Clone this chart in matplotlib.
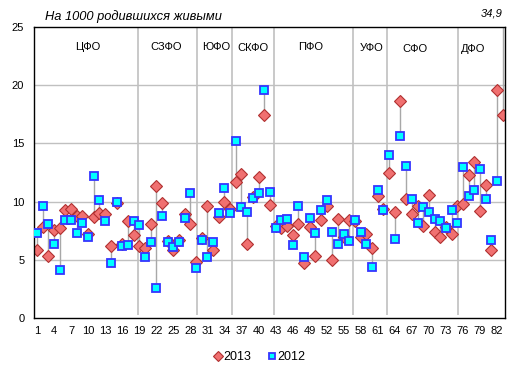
import matplotlib
matplotlib.use('Agg')
import matplotlib.pyplot as plt
import numpy as np

plt.rcParams['font.family'] = ['Liberation Sans', 'DejaVu Sans']

# infant mortality per 1000 live births, by region number
v2013 = [5.8, 7.8, 5.3, 7.6, 7.7, 9.3, 9.4, 8.8, 8.8, 7.2,
         8.7, 9.0, 8.9, 6.2, 9.9, 6.4, 8.3, 7.1, 6.2, 6.0,
         8.1, 11.3, 9.9, 6.6, 5.8, 6.7, 8.9, 8.1, 4.8, 6.9,
         9.6, 5.8, 8.7, 10.0, 9.4, 11.7, 12.4, 6.4, 10.4, 12.1,
         17.4, 9.7, 7.9, 7.7, 7.9, 7.1, 8.1, 4.7, 7.8, 5.3,
         8.4, 9.6, 5.0, 8.5, 7.0, 8.4, 8.3, 7.0, 7.2, 6.0,
         10.5, 9.4, 12.5, 9.1, 18.6, 10.2, 8.9, 9.6, 7.9, 10.6,
         7.4, 7.0, 7.8, 7.2, 9.6, 9.8, 12.3, 13.4, 9.2, 11.4,
         5.8, 19.6, 17.4]
v2012 = [7.3, 9.6, 8.1, 6.4, 4.1, 8.4, 8.4, 7.3, 8.2, 7.0,
         12.2, 10.1, 8.3, 4.7, 10.0, 6.2, 6.3, 8.3, 8.0, 5.2,
         6.5, 2.6, 8.8, 6.5, 6.1, 6.5, 8.6, 10.7, 4.3, 6.7,
         5.2, 6.5, 9.0, 11.2, 9.0, 15.2, 9.5, 9.1, 10.3, 10.7,
         19.6, 10.8, 7.7, 8.4, 8.5, 6.3, 9.6, 5.2, 8.6, 7.3,
         9.3, 10.1, 7.4, 6.4, 7.2, 6.6, 8.4, 7.4, 6.4, 4.4,
         11.0, 9.3, 14.0, 6.8, 15.6, 13.1, 10.2, 8.2, 9.5, 9.1,
         8.5, 8.3, 7.7, 9.3, 8.2, 13.0, 10.5, 11.0, 12.8, 10.2,
         6.7, 11.8, 34.9]
districts = ['ЦФО', 'СЗФО', 'ЮФО', 'СКФО', 'ПФО', 'УФО', 'СФО', 'ДФО']
district_x = [9.9, 23.8, 32.5, 39.0, 49.2, 59.9, 67.5, 77.7]
district_y = [23.3, 23.3, 23.3, 23.2, 23.3, 23.2, 23.1, 23.1]
borders = [18.78, 29.17, 35.33, 42.67, 56.58, 62.62, 75.12]

n = np.arange(1, len(v2013) + 1)

fig = plt.figure(figsize=(5.21, 3.77), dpi=100)
ax = fig.add_axes([34/521, 1-318/377, 471/521, 291/377])

ax.set_xlim(0.47, 83.4)
ax.set_ylim(0, 25)
ax.set_yticks(np.arange(0, 26, 5))
ax.set_xticks(np.arange(1, 84, 3))
ax.tick_params(length=0, labelsize=8)
ax.tick_params(axis='y', pad=7)
ax.tick_params(axis='x', pad=6)
for y in [5, 10, 15, 20]:
    ax.axhline(y, color='#c0c0c0', lw=1, zorder=0)
ax.vlines(borders, 0.3, 25, color='#c0c0c0', lw=1.2, zorder=0)
for s in ax.spines.values():
    s.set_color('black')
    s.set_linewidth(1)

ax.vlines(n, v2013, v2012, color='#a8a8a8', lw=1, zorder=1)
ax.plot(n, v2013, 'D', ms=6, mfc='#f07070', mec='#b03030', mew=0.8,
        ls='none', label='2013', zorder=2)
ax.plot(n, v2012, 's', ms=5.6, mfc='#00ffff', mec='#3535ff', mew=1.3,
        ls='none', label='2012', zorder=3)

for name, x, y in zip(districts, district_x, district_y):
    ax.text(x, y, name, ha='center', va='center', fontsize=8)

fig.text(45/521, 1-17/377, 'На 1000 родившихся живыми', fontsize=9.3,
         style='italic', va='center', ha='left')
fig.text(503/521, 1-14/377, '34,9', fontsize=8, style='italic',
         va='center', ha='right')

fig.legend(loc='center', bbox_to_anchor=(260/521, 1-357/377), ncol=2,
           frameon=False, fontsize=9, handlelength=0.6, handletextpad=0.1,
           columnspacing=1.4, markerscale=0.85)

fig.savefig('out.png', dpi=100)
